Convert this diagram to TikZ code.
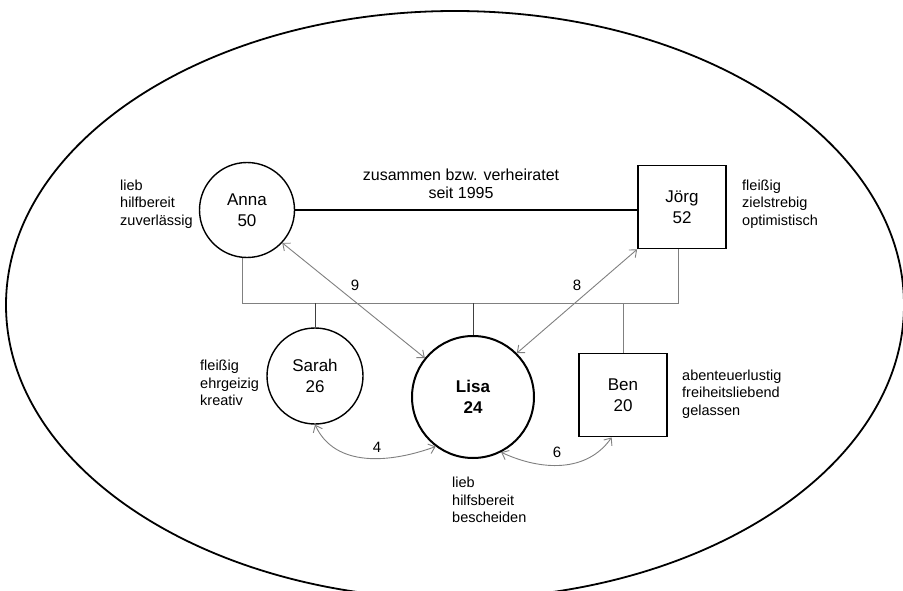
\documentclass[tikz,border=0pt]{standalone}
\usepackage{fontspec}
\setmainfont{Liberation Sans}
\usetikzlibrary{arrows.meta,calc}
\begin{document}
\begin{tikzpicture}[x=1pt,y=-1pt,
  namefont/.style={font=\fontsize{17}{21.5}\selectfont},
  femalenode/.style={draw=black, line width=1.4pt, circle, minimum size=95pt, inner sep=0pt, align=center, namefont},
  malenode/.style={draw=black, line width=1.8pt, rectangle, minimum width=88pt, minimum height=83pt, inner sep=0pt, align=center, namefont},
  traits/.style={anchor=west, align=left, inner sep=0pt, font=\fontsize{14.5}{17.5}\selectfont},
  tree/.style={draw=gray, line width=0.9pt},
  treedark/.style={draw=black!75, line width=0.8pt},
  rel/.style={draw=gray, line width=0.9pt, {Straight Barb[length=6pt,width=10pt]}-{Straight Barb[length=6pt,width=10pt]}},
  numlabel/.style={font=\fontsize{15}{18}\selectfont, inner sep=0pt}
]
\useasboundingbox (0,0) rectangle (903,591);
\clip (0,0) rectangle (903,591);
\fill[white] (0,0) rectangle (903,591);
\draw[line width=1.8pt] (455,305) ellipse [x radius=449, y radius=294];

% persons
\node[femalenode] (anna) at (247,210) {Anna\\50};
\node[malenode] (joerg) at (682,207) {Jörg\\52};
\node[femalenode, minimum size=96pt] (sarah) at (315,376) {Sarah\\26};
\node[femalenode, minimum size=122pt, line width=2pt, font=\fontsize{17}{21.5}\selectfont\bfseries] (lisa) at (473,397) {Lisa\\24};
\node[malenode] (ben) at (623,395) {Ben\\20};

% traits
\node[traits] (tanna) at (120,204) {lieb\\hilfbereit\\zuverlässig};
\node[traits] (tjoerg) at (742,204) {fleißig\\zielstrebig\\optimistisch};
\node[traits] (tsarah) at (200,383) {fleißig\\ehrgeizig\\kreativ};
\node[traits] (tben) at (682,394) {abenteuerlustig\\freiheitsliebend\\gelassen};
\node[traits] (tlisa) at (452,500) {lieb\\hilfsbereit\\bescheiden};

% marriage
\draw[line width=1.8pt] (anna.east) -- (joerg.west |- anna.east);
\node[align=center, inner sep=0pt, font=\fontsize{16}{18.5}\selectfont] (mtext) at (461,184) {zusammen bzw. verheiratet\\seit 1995};

% family tree lines
\coordinate (barL) at (242,303);
\coordinate (barR) at (678,303);
\draw[tree] (anna.south -| barL) -- (barL) -- (barR) -- (joerg.south -| barR);
\draw[treedark] (sarah.north) -- (sarah.north |- barL);
\draw[treedark] (lisa.north) -- (lisa.north |- barL);
\draw[tree] (ben.north) -- (ben.north |- barL);

% relationships
\draw[rel] (anna.-43) -- (lisa.141);
\draw[rel] (joerg.south west) -- (lisa.45);
\draw[rel] (sarah.south) to[out=-65, in=200] (lisa.233);
\draw[rel] (lisa.-63) to[out=-25, in=235] (ben.-105);

\node[numlabel] (n9) at (355,285) {9};
\node[numlabel] (n8) at (577,285) {8};
\node[numlabel] (n4) at (377,447) {4};
\node[numlabel] (n6) at (557,452) {6};
\end{tikzpicture}
\end{document}
